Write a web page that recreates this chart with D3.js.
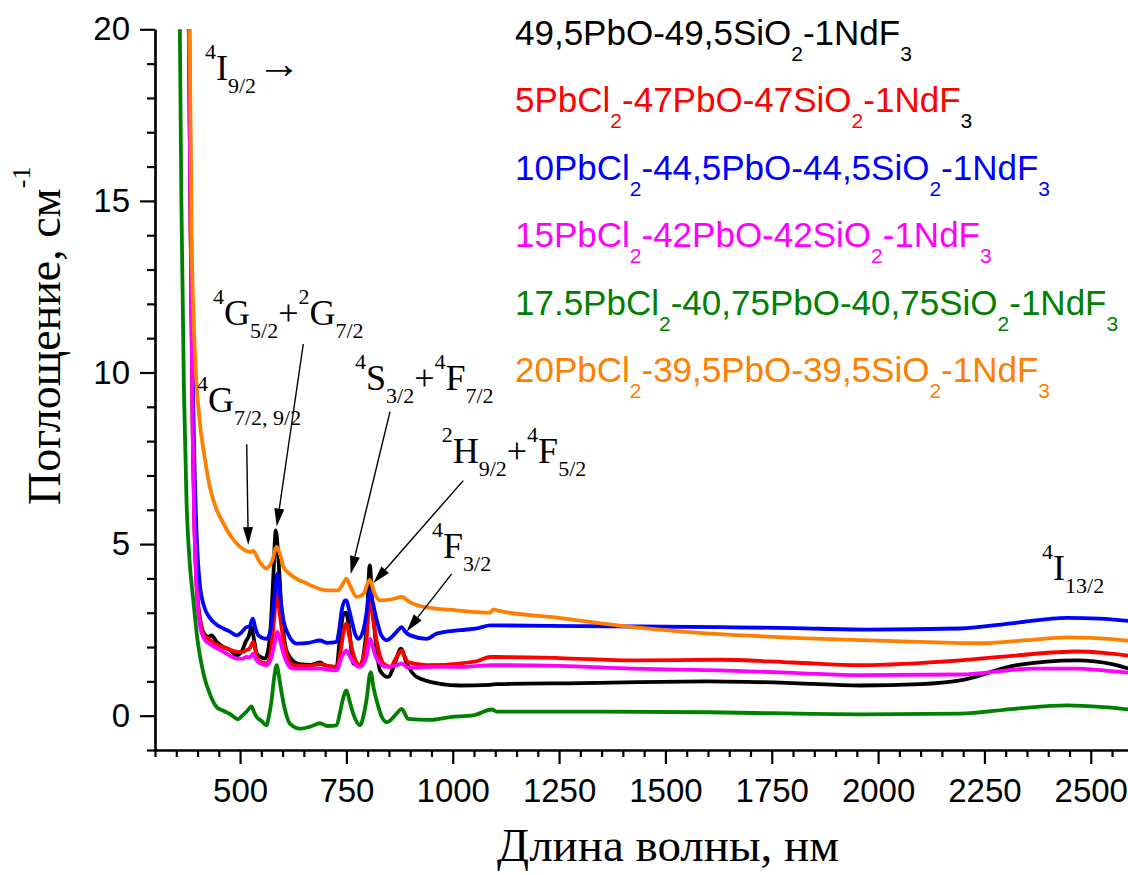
<!DOCTYPE html>
<html>
<head>
<meta charset="utf-8">
<script src="https://cdn.jsdelivr.net/npm/d3@7"></script>
<style>
  html, body { margin: 0; padding: 0; overflow: hidden; background: #fff; }
</style>
</head>
<body>
<svg id="chart" width="1128" height="875"></svg>
<script>
// ---- Absorption spectra: [wavelength nm, absorption cm^-1] ----
const glass0 = [[378,22],[384,14],[389,8],[393,5.5],[398,3.8],[406,2.8],[415,2.4],[425,2.3],[433,2.34],[445,2.15],[461,2.0],[476,1.92],[492,1.76],[505,1.9],[513,2.15],[520,2.3],[527,2.58],[533,2.2],[539,1.81],[550,1.7],[558,1.66],[566,1.9],[572,2.6],[578,4.0],[584,5.4],[590,4.6],[598,2.97],[607,2.0],[617,1.71],[640,1.5],[665,1.48],[688,1.55],[700,1.47],[727,1.42],[735,2.3],[743,2.95],[749,3.0],[756,2.6],[766,1.52],[782,1.45],[797,2.49],[805,4.38],[811,3.2],[817,2.39],[829,1.32],[848,1.13],[864,1.52],[878,1.95],[892,1.52],[915,1.13],[970,0.93],[1017,0.88],[1088,0.9],[1103,0.92],[1300,0.95],[1600,1.0],[1800,0.95],[1958,0.88],[2100,0.92],[2193,1.03],[2326,1.47],[2467,1.61],[2550,1.5],[2600,1.33]];

const glass5 = [[378,22],[384,14],[389,8],[393,5.5],[398,3.8],[406,2.8],[415,2.35],[425,2.25],[440,2.1],[461,2.0],[476,1.92],[492,1.86],[505,1.85],[513,1.9],[522,1.95],[531,2.15],[537,1.85],[543,1.61],[562,1.52],[570,1.7],[577,2.4],[582,3.1],[586,3.65],[592,3.1],[602,2.19],[612,1.7],[625,1.47],[660,1.45],[688,1.5],[705,1.45],[727,1.42],[734,1.7],[739,2.1],[746,2.6],[750,2.68],[757,2.3],[766,1.81],[782,1.47],[792,1.8],[797,2.19],[806,3.46],[813,2.8],[821,2.19],[837,1.52],[853,1.42],[868,1.71],[880,1.9],[886,1.75],[895,1.56],[939,1.47],[1017,1.52],[1060,1.6],[1088,1.71],[1103,1.71],[1250,1.68],[1424,1.61],[1628,1.63],[1800,1.55],[1958,1.47],[2193,1.61],[2320,1.75],[2467,1.87],[2530,1.83],[2600,1.73]];

const glass10 = [[379,22],[385,14],[390,9],[395,6.3],[400,4.7],[406,3.75],[415,3.2],[429,2.85],[445,2.65],[461,2.54],[476,2.45],[492,2.34],[505,2.45],[515,2.58],[522,2.6],[530,2.83],[536,2.55],[543,2.34],[562,2.24],[570,2.4],[576,2.9],[582,3.6],[588,4.14],[594,3.5],[602,2.78],[612,2.4],[633,2.1],[660,2.12],[688,2.19],[705,2.12],[727,2.15],[733,2.5],[739,3.07],[747,3.36],[750,3.36],[756,3.1],[762,2.8],[770,2.4],[778,2.24],[790,2.5],[797,2.97],[805,3.65],[812,3.3],[821,2.8],[832,2.35],[845,2.2],[864,2.39],[872,2.5],[880,2.58],[888,2.45],[900,2.34],[939,2.24],[962,2.39],[1017,2.49],[1060,2.55],[1088,2.63],[1103,2.63],[1300,2.61],[1628,2.58],[1800,2.55],[1973,2.51],[2193,2.54],[2320,2.7],[2444,2.85],[2520,2.83],[2600,2.75]];

const glass15 = [[378,22],[384,14],[389,8],[393,5.3],[398,3.6],[406,2.6],[415,2.25],[425,2.12],[445,1.97],[461,1.86],[476,1.75],[492,1.66],[505,1.66],[515,1.71],[522,1.7],[531,1.81],[537,1.65],[543,1.56],[562,1.47],[574,1.71],[581,2.1],[588,2.44],[594,2.2],[602,1.81],[612,1.5],[625,1.37],[688,1.37],[727,1.32],[739,1.71],[750,1.9],[757,1.75],[766,1.56],[782,1.42],[797,1.71],[806,2.24],[813,1.95],[821,1.66],[845,1.42],[868,1.47],[880,1.52],[895,1.4],[960,1.42],[1017,1.42],[1060,1.45],[1088,1.47],[1103,1.47],[1250,1.45],[1424,1.37],[1628,1.32],[1800,1.25],[1958,1.18],[2193,1.2],[2365,1.37],[2467,1.37],[2530,1.32],[2600,1.24]];

const glass17 = [[357,22],[362,15],[368,9.5],[374,6.3],[382,4.4],[390,3.37],[400,2.2],[414,1.22],[430,0.6],[445,0.25],[460,0.15],[476,0.05],[496,-0.1],[505,0.0],[515,0.11],[527,0.27],[533,0.1],[539,-0.04],[550,-0.15],[562,-0.28],[568,0.0],[574,0.44],[580,1.1],[586,1.47],[592,1.1],[598,0.64],[607,0.1],[617,-0.23],[641,-0.38],[665,-0.32],[688,-0.22],[705,-0.3],[727,-0.28],[735,0.1],[741,0.44],[750,0.74],[758,0.4],[766,0.06],[782,-0.28],[792,0.1],[797,0.44],[807,1.27],[814,0.8],[821,0.44],[832,0.0],[845,-0.19],[868,0.06],[880,0.2],[895,-0.09],[947,-0.12],[994,-0.04],[1048,0.01],[1092,0.18],[1103,0.12],[1300,0.12],[1600,0.1],[1958,0.04],[2193,0.06],[2320,0.2],[2444,0.3],[2530,0.25],[2600,0.17]];

const glass20 = [[380,22],[386,14],[391,11.5],[396,10],[405,8.6],[417,7.5],[430,6.6],[445,6.0],[461,5.6],[480,5.2],[500,4.92],[515,4.8],[523,4.77],[531,4.8],[545,4.5],[562,4.29],[575,4.5],[586,4.92],[594,4.7],[602,4.33],[620,4.1],[657,3.85],[704,3.65],[730,3.65],[742,3.85],[750,3.99],[760,3.75],[774,3.46],[790,3.55],[805,3.96],[815,3.6],[829,3.36],[860,3.4],[880,3.46],[900,3.3],[931,3.17],[1009,3.07],[1088,3.0],[1095,3.1],[1103,3.07],[1250,2.85],[1424,2.58],[1581,2.41],[1800,2.27],[1958,2.2],[2100,2.15],[2247,2.11],[2350,2.2],[2444,2.28],[2520,2.25],[2600,2.17]];

// Legend labels as [text, isSubscript] runs
const label0  = [["49,5PbO-49,5SiO",0],["2",1],["-1NdF",0],["3",1]];
const label5  = [["5PbCl",0],["2",1],["-47PbO-47SiO",0],["2",1],["-1NdF",0],["3",1]];
const label10 = [["10PbCl",0],["2",1],["-44,5PbO-44,5SiO",0],["2",1],["-1NdF",0],["3",1]];
const label15 = [["15PbCl",0],["2",1],["-42PbO-42SiO",0],["2",1],["-1NdF",0],["3",1]];
const label17 = [["17.5PbCl",0],["2",1],["-40,75PbO-40,75SiO",0],["2",1],["-1NdF",0],["3",1]];
const label20 = [["20PbCl",0],["2",1],["-39,5PbO-39,5SiO",0],["2",1],["-1NdF",0],["3",1]];

const seriesData   = [glass0, glass5, glass10, glass15, glass17, glass20];
const seriesLabels = [label0, label5, label10, label15, label17, label20];
const seriesColors = ["#000000", "#ff0000", "#0000ff", "#ff00ff", "#008000", "#ff8000"];

// Axis ticks
const xMajorTicks = [500, 750, 1000, 1250, 1500, 1750, 2000, 2250, 2500];
const yMajorTicks = [0, 5, 10, 15, 20];

// Transition labels: runs of [text, kind] ("", "sup", "sub", "arrow"), anchored at [nm, cm^-1]
const transLabels = [
  { at: [417.5, 18.52], runs: [["4","sup"],["I",""],["9/2","sub"],["\u2192","arrow"]] },
  { at: [436.4, 11.38], runs: [["4","sup"],["G",""],["5/2","sub"],["+",""],["2","sup"],["G",""],["7/2","sub"]] },
  { at: [398.7, 8.85],  runs: [["4","sup"],["G",""],["7/2, 9/2","sub"]] },
  { at: [770.2, 9.49],  runs: [["4","sup"],["S",""],["3/2","sub"],["+",""],["4","sup"],["F",""],["7/2","sub"]] },
  { at: [974.0, 7.36],  runs: [["2","sup"],["H",""],["9/2","sub"],["+",""],["4","sup"],["F",""],["5/2","sub"]] },
  { at: [951.2, 4.59],  runs: [["4","sup"],["F",""],["3/2","sub"]] },
  { at: [2385.4, 3.95], runs: [["4","sup"],["I",""],["13/2","sub"]] }
];
// Pointer arrows: [from nm, from value, to nm, to value]
const pointerArrows = [
  [515.6, 7.91, 519.3, 4.97],
  [648.6, 10.83, 586.1, 5.51],
  [852.5, 8.86, 760.1, 4.13],
  [1024.8, 6.85, 813.2, 3.86],
  [997.5, 4.13, 891.7, 2.45]
];

// ---- Layout ----
const svg = d3.select("#chart");
const x = d3.scaleLinear().domain([300, 2600]).range([155, 1133.3]);
const y = d3.scaleLinear().domain([-1, 20]).range([750, 29.3]);

svg.append("defs").append("clipPath").attr("id", "plotClip")
  .append("rect")
  .attr("x", x(300)).attr("y", y(20))
  .attr("width", x(2600) - x(300)).attr("height", y(-1) - y(20));

// Spectra
const line = d3.line().x(d => x(d[0])).y(d => y(d[1])).curve(d3.curveMonotoneX);
const plot = svg.append("g").attr("clip-path", "url(#plotClip)");
seriesData.forEach((s, i) => {
  plot.append("path")
    .attr("d", line(s))
    .attr("fill", "none")
    .attr("stroke", seriesColors[i])
    .attr("stroke-width", 3.8)
    .attr("stroke-linejoin", "round");
});

// Axes
const xMinor = d3.range(300, 2601, 50).filter(v => !xMajorTicks.includes(v));
const yMinor = d3.range(-1, 21, 1).filter(v => !yMajorTicks.includes(v));

function styleAxis(g) {
  g.selectAll("path.domain").attr("stroke", "#000").attr("stroke-width", 2.2);
  g.selectAll(".tick line").attr("stroke", "#000").attr("stroke-width", 2.2);
  g.selectAll("text").attr("font-family", "'Liberation Sans', Arial, sans-serif")
    .attr("font-size", 33).attr("fill", "#000");
}

svg.append("g").attr("transform", `translate(0,${y(-1)})`)
  .call(d3.axisBottom(x).tickValues(xMinor).tickSize(7).tickSizeOuter(0).tickFormat(""))
  .call(styleAxis);
svg.append("g").attr("transform", `translate(0,${y(-1)})`)
  .call(d3.axisBottom(x).tickValues(xMajorTicks).tickSize(14).tickSizeOuter(0)
        .tickPadding(15).tickFormat(d3.format("d")))
  .call(styleAxis);

svg.append("g").attr("transform", `translate(${x(300)},0)`)
  .call(d3.axisLeft(y).tickValues(yMinor).tickSize(8).tickSizeOuter(0).tickFormat(""))
  .call(styleAxis);
svg.append("g").attr("transform", `translate(${x(300)},0)`)
  .call(d3.axisLeft(y).tickValues(yMajorTicks).tickSize(15).tickSizeOuter(0)
        .tickPadding(10).tickFormat(d3.format("d")))
  .call(styleAxis);

// Axis titles
const serif = "'Liberation Serif', 'Times New Roman', serif";
svg.append("text")
  .attr("x", 668).attr("y", 861)
  .attr("text-anchor", "middle")
  .attr("font-family", serif).attr("font-size", 47)
  .text("Длина волны, нм");

const yTitle = svg.append("text")
  .attr("transform", "translate(60,505) rotate(-90)")
  .attr("font-family", serif).attr("font-size", 46);
yTitle.append("tspan").text("Поглощение, см");
yTitle.append("tspan").attr("font-size", 26).attr("dy", -30).text("-1");

// Legend
const sans = "'Liberation Sans', Arial, sans-serif";
seriesLabels.forEach((runs, i) => {
  const t = svg.append("text")
    .attr("x", 515).attr("y", 45 + i * 67.4)
    .attr("font-family", sans).attr("font-size", 35)
    .attr("fill", seriesColors[i]);
  let low = false;
  runs.forEach(([txt, sub], k) => {
    const ts = t.append("tspan").text(txt);
    if (sub && !low) { ts.attr("dy", 16); low = true; }
    else if (!sub && low) { ts.attr("dy", -16); low = false; }
    if (sub) ts.attr("font-size", 21);
    // the closing subscript of the 5PbCl2 entry is printed in black
    if (i === 1 && k === runs.length - 1) ts.attr("fill", "#000");
  });
});

// Transition labels
transLabels.forEach(lab => {
  const t = svg.append("text")
    .attr("x", x(lab.at[0])).attr("y", y(lab.at[1]))
    .attr("font-family", serif).attr("font-size", 36).attr("fill", "#000");
  let off = 0;
  lab.runs.forEach(([txt, kind]) => {
    const target = kind === "sup" ? -21 : kind === "sub" ? 13 : kind === "arrow" ? -2 : 0;
    const ts = t.append("tspan").text(txt).attr("dy", target - off);
    off = target;
    if (kind === "sup" || kind === "sub") ts.attr("font-size", 22);
    if (kind === "arrow") ts.attr("font-size", 44).attr("dx", 1);
  });
});

// Pointer arrows
const arrows = svg.append("g");
pointerArrows.forEach(([x0, y0, x1, y1]) => {
  const ax = x(x0), ay = y(y0), bx = x(x1), by = y(y1);
  const ang = Math.atan2(by - ay, bx - ax);
  const len = 18, hw = 5;
  const baseX = bx - len * Math.cos(ang), baseY = by - len * Math.sin(ang);
  arrows.append("line")
    .attr("x1", ax).attr("y1", ay).attr("x2", baseX).attr("y2", baseY)
    .attr("stroke", "#000").attr("stroke-width", 1.4);
  const px = -Math.sin(ang) * hw, py = Math.cos(ang) * hw;
  arrows.append("path")
    .attr("d", `M${bx},${by}L${baseX + px},${baseY + py}L${baseX - px},${baseY - py}Z`)
    .attr("fill", "#000");
});
</script>
</body>
</html>
